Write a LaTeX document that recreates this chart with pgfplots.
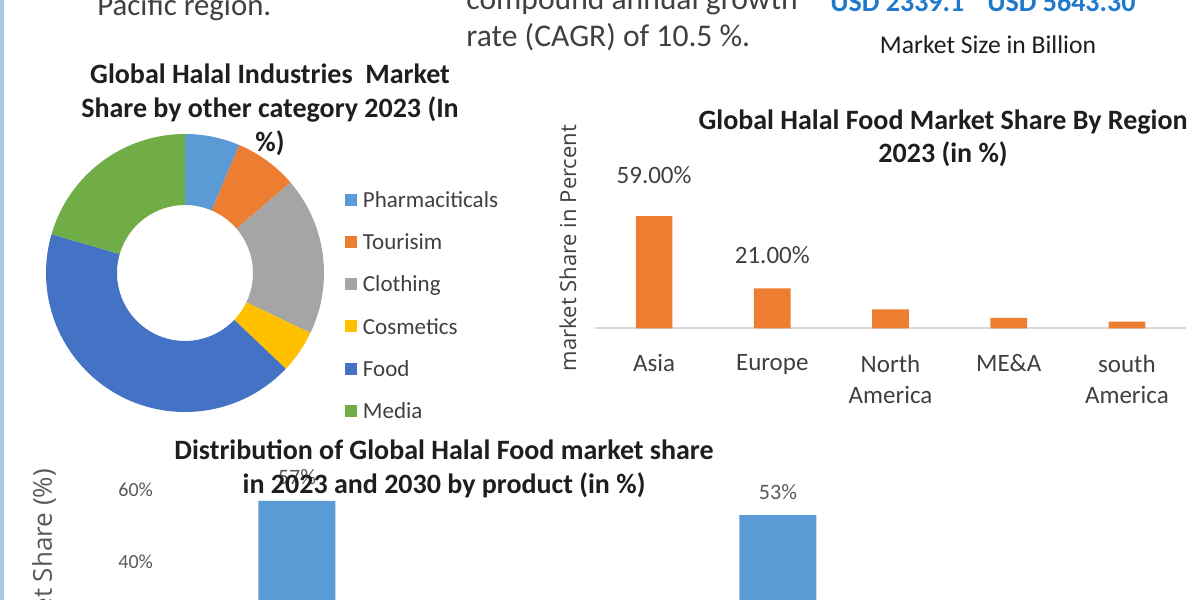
\documentclass[border=0pt]{standalone}
\usepackage{fontspec}
\setmainfont{Carlito}
\newfontfamily\osans{Open Sans}
\usepackage{pgfplots}
\usepackage{pgfplotstable}
\pgfplotsset{compat=1.18}
\definecolor{cPharma}{HTML}{5B9BD5}
\definecolor{cTour}{HTML}{ED7D31}
\definecolor{cCloth}{HTML}{A5A5A5}
\definecolor{cCosm}{HTML}{FFC000}
\definecolor{cFood}{HTML}{4472C4}
\definecolor{cMedia}{HTML}{70AD47}
\definecolor{cOrange}{HTML}{ED7D31}
\definecolor{cBar}{HTML}{5B9BD5}
\definecolor{cText}{HTML}{404040}
\definecolor{cTitle}{HTML}{1E1E1E}
\definecolor{cGray}{HTML}{595959}
\definecolor{cLine}{HTML}{D9D9D9}
\definecolor{cUSD}{HTML}{1F7ACC}
\definecolor{cBorder}{HTML}{A9C8E6}

\pgfplotstableread{
label value colour
Pharmaciticals 6.4 cPharma
Tourisim 7.3 cTour
Clothing 18.4 cCloth
Cosmetics 5.0 cCosm
Food 42.4 cFood
Media 20.5 cMedia
}\donutdata

\pgfplotstableread{
x value
0 59
1 21
2 10
3 5.5
4 3.5
}\regiondata

\pgfplotstableread{
x value
0 57
1 53
}\productdata

\def\donutpaths{}%
\def\acur{90}%
\pgfplotsforeachungrouped \i in {0,...,5}{%
  \pgfplotstablegetelem{\i}{value}\of\donutdata%
  \pgfmathsetmacro\anext{\acur-3.6*\pgfplotsretval}%
  \pgfplotstablegetelem{\i}{colour}\of\donutdata%
  \edef\donutpaths{\unexpanded\expandafter{\donutpaths}%
    \noexpand\fill[\pgfplotsretval] (axis cs:0,0) ++(\acur:69.5pt)
    arc[start angle=\acur, end angle=\anext, radius=69.5pt]
    -- ++(\anext:-35.5pt)
    arc[start angle=\anext, end angle=\acur, radius=34pt] -- cycle;}%
  \let\acur\anext%
}%

\begin{document}
\begin{tikzpicture}[x=0.5pt,y=0.5pt]
\useasboundingbox (0,0) rectangle (1200,600);
\fill[white] (0,0) rectangle (1200,600);
\clip (0,0) rectangle (1200,600);
\fill[cBorder] (0,0) rectangle (3.5,600);

% ---- top texts
\node[anchor=base west, font=\fontsize{15.4}{18}\selectfont, text=cText, inner sep=0pt] at (97,584) {Pacific region.};
\node[anchor=base west, font=\fontsize{15.8}{18}\selectfont, text=cText, inner sep=0pt] at (466,590) {compound annual growth};
\node[anchor=base west, font=\fontsize{15.8}{18}\selectfont, text=cText, inner sep=0pt] at (466,553) {rate (CAGR) of 10.5 \%.};
\node[anchor=base west, font=\bfseries\fontsize{14}{17}\selectfont, text=cUSD, inner sep=0pt] at (830,588) {USD 2339.1};
\node[anchor=base west, font=\bfseries\fontsize{14}{17}\selectfont, text=cUSD, inner sep=0pt] at (987,588) {USD 5643.30};
\node[anchor=base, font=\fontsize{12.8}{15}\selectfont, text=cTitle, inner sep=0pt] at (988,546) {Market Size in Billion};

% ---- donut
\begin{axis}[at={(92.5pt,163.5pt)}, anchor=center, width=139pt, height=139pt, scale only axis,
  xmin=-1,xmax=1,ymin=-1,ymax=1, hide axis, clip=false,
  legend image code/.code={\fill[#1] (0pt,-3pt) rectangle (6pt,3pt);},
  legend cell align=left,
  legend style={at={(1.0755,0.8014)}, anchor=north west, draw=none, fill=none,
     inner sep=0pt, outer sep=0pt, row sep=10.5pt, column sep=3pt,
     font=\fontsize{11.5}{13}\selectfont\color{cText},
     nodes={inner sep=0pt}}]
\donutpaths
\addlegendimage{fill=cPharma,draw=none}\addlegendentry{\strut Pharmaciticals}
\addlegendimage{fill=cTour,draw=none}\addlegendentry{\strut Tourisim}
\addlegendimage{fill=cCloth,draw=none}\addlegendentry{\strut Clothing}
\addlegendimage{fill=cCosm,draw=none}\addlegendentry{\strut Cosmetics}
\addlegendimage{fill=cFood,draw=none}\addlegendentry{\strut Food}
\addlegendimage{fill=cMedia,draw=none}\addlegendentry{\strut Media}
\end{axis}
\node[align=center, font=\bfseries\fontsize{14}{17}\selectfont, text=cTitle] at (270,490)
  {Global Halal Industries\ \ Market\\Share by other category 2023 (In\\\%)};

% ---- region bars
\begin{axis}[at={(297.5pt,135.85pt)}, anchor=south west, width=295.5pt, height=61.85pt, scale only axis,
  xmin=-0.5,xmax=4.5,ymin=0,ymax=65, clip=false,
  axis x line*=bottom, axis y line*=left,
  x axis line style={draw=cLine, line width=0.8pt, -},
  y axis line style={draw=none},
  ytick=\empty, xtick={0,...,4}, major tick length=0pt,
  xticklabels={Asia,Europe,{North\\America},ME\&A,{south\\America}},
  xticklabel style={font=\fontsize{12.5}{15.5}\selectfont, text=cText, align=center, anchor=north, inner sep=0pt, yshift=-13pt},
  ylabel={market Share in Percent},
  ylabel style={font=\osans\fontsize{11}{13}\selectfont, text=cText, at={(axis description cs:-0.0457,0.649)}, anchor=center},
]
\addplot[ybar, bar width=18.35pt, fill=cOrange, draw=none] table[x=x,y=value]{\regiondata};
\node[anchor=base, font=\fontsize{12.5}{15}\selectfont, text=cText, yshift=16.5pt] at (axis cs:0,59) {59.00\%};
\node[anchor=base, font=\fontsize{12.5}{15}\selectfont, text=cText, yshift=12.5pt] at (axis cs:1,21) {21.00\%};
\end{axis}
\node[align=center, font=\bfseries\fontsize{14}{16.5}\selectfont, text=cTitle] at (943,461.5)
  {Global Halal Food Market Share By Region\\2023 (in \%)};

% ---- product bars
\begin{axis}[at={(80pt,-53pt)}, anchor=south west, width=510pt, height=126pt, scale only axis,
  xmin=-0.2848, xmax=1.8358, ymin=0, ymax=70, clip=false,
  axis line style={draw=none}, major tick length=0pt,
  xtick=\empty, ytick={0,20,40,60}, yticklabels={0\%,20\%,40\%,60\%},
  yticklabel style={font=\fontsize{10}{12}\selectfont, text=cGray},
  ylabel={Market Share (\%)},
  ylabel style={font=\osans\fontsize{13}{15}\selectfont, text=cGray, at={(axis description cs:-0.1137,0.968)}, anchor=east},
]
\addplot[ybar, bar width=38.5pt, fill=cBar, draw=none,
  nodes near coords={\pgfmathprintnumber[assume math mode=true]{\pgfplotspointmeta}\%},
  every node near coord/.append style={anchor=base, yshift=8pt, font=\fontsize{11}{13}\selectfont, text=cGray}]
  table[x=x,y=value]{\productdata};
\end{axis}
\node[align=center, font=\bfseries\fontsize{14}{17}\selectfont, text=cTitle] at (444,131)
  {Distribution of Global Halal Food market share\\in 2023 and 2030 by product (in \%)};
\end{tikzpicture}
\end{document}
